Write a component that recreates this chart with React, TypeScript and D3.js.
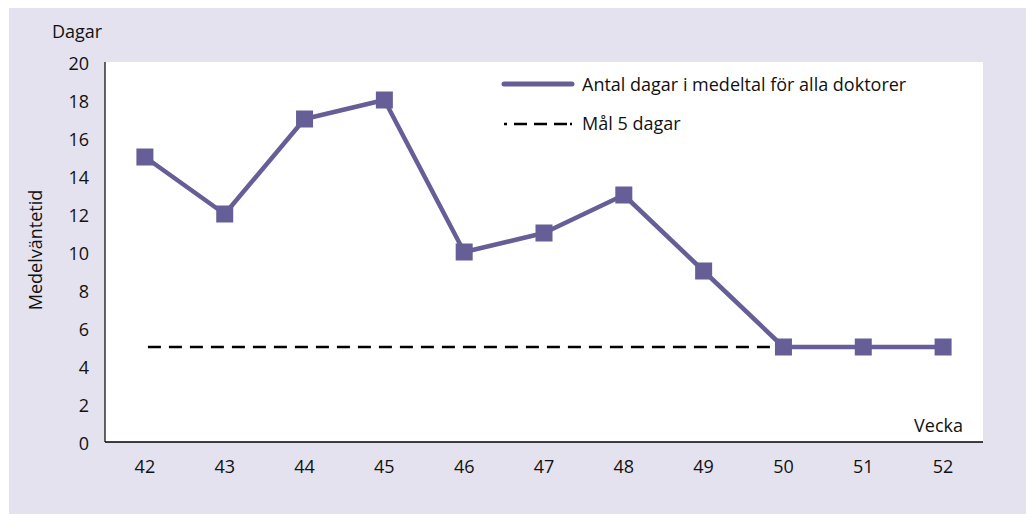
import React from "react";
import * as d3 from "d3";

const weeks = ["42", "43", "44", "45", "46", "47", "48", "49", "50", "51", "52"];
const avgDays = [15, 12, 17, 18, 10, 11, 13, 9, 5, 5, 5];
const goalWeeks = ["42", "50"];
const goalValue = 5;
const yTicks = [0, 2, 4, 6, 8, 10, 12, 14, 16, 18, 20];
const seriesName = "Antal dagar i medeltal för alla doktorer";
const goalName = "Mål 5 dagar";

const W = 1026;
const H = 514;
const FONT = "'Open Sans', sans-serif";
const COLOR = "#665e96";
const FS = 18;

export default function App() {
  const left = 105, right = 983, top = 62, bottom = 442;
  const x = d3.scalePoint<string>().domain(weeks).range([left, right]).padding(0.5);
  const y = d3.scaleLinear().domain([0, 20]).range([bottom, top]);
  const line = d3
    .line<number>()
    .x((_, i) => x(weeks[i]) as number)
    .y((d) => y(d));
  const goalX1 = (x(goalWeeks[0]) as number) + 3;
  const goalX2 = x(goalWeeks[1]) as number;
  const ms = 17;

  return (
    <svg
      width={W}
      height={H}
      style={{ position: "absolute", left: 0, top: 0, display: "block" }}
      fontFamily={FONT}
    >
      <rect x={0} y={0} width={W} height={H} fill="#ffffff" />
      <rect x={9} y={8} width={W - 9} height={H - 8} fill="#e4e2ee" />
      <rect x={left} y={top} width={right - left} height={bottom - top} fill="#ffffff" />
      <line x1={left} y1={top} x2={left} y2={bottom} stroke="#000" strokeWidth={1.2} />
      <line x1={left} y1={bottom} x2={right} y2={bottom} stroke="#000" strokeWidth={1.5} />
      {yTicks.map((t) => (
        <text
          key={t}
          x={89}
          y={y(t) + 1}
          textAnchor="end"
          dominantBaseline="central"
          fontSize={FS}
          fill="#111"
        >
          {t}
        </text>
      ))}
      {weeks.map((w) => (
        <text
          key={w}
          x={x(w) as number}
          y={466}
          textAnchor="middle"
          dominantBaseline="central"
          fontSize={FS}
          fill="#111"
        >
          {w}
        </text>
      ))}
      <text x={52} y={31} dominantBaseline="central" fontSize={FS} fill="#111">
        Dagar
      </text>
      <text x={963} y={425} textAnchor="end" dominantBaseline="central" fontSize={FS} fill="#111">
        Vecka
      </text>
      <text
        transform="translate(35,250) rotate(-90)"
        textAnchor="middle"
        dominantBaseline="central"
        fontSize={FS}
        fill="#111"
      >
        Medelväntetid
      </text>
      <line
        x1={goalX1}
        y1={y(goalValue)}
        x2={goalX2}
        y2={y(goalValue)}
        stroke="#000"
        strokeWidth={2.5}
        strokeDasharray="13 8"
      />
      <path d={line(avgDays) || ""} fill="none" stroke={COLOR} strokeWidth={4.5} strokeLinejoin="round" />
      {avgDays.map((v, i) => (
        <rect
          key={i}
          x={(x(weeks[i]) as number) - ms / 2}
          y={y(v) - ms / 2}
          width={ms}
          height={ms}
          fill={COLOR}
        />
      ))}
      <line x1={504} y1={84} x2={572} y2={84} stroke={COLOR} strokeWidth={5} strokeLinecap="round" />
      <text x={582} y={84} dominantBaseline="central" fontSize={FS} fill="#111">
        {seriesName}
      </text>
      <line x1={504} y1={124} x2={572} y2={124} stroke="#000" strokeWidth={2.5} strokeDasharray="3 7 13 7 13 7 13" />
      <text x={582} y={123} dominantBaseline="central" fontSize={FS} fill="#111">
        {goalName}
      </text>
    </svg>
  );
}
